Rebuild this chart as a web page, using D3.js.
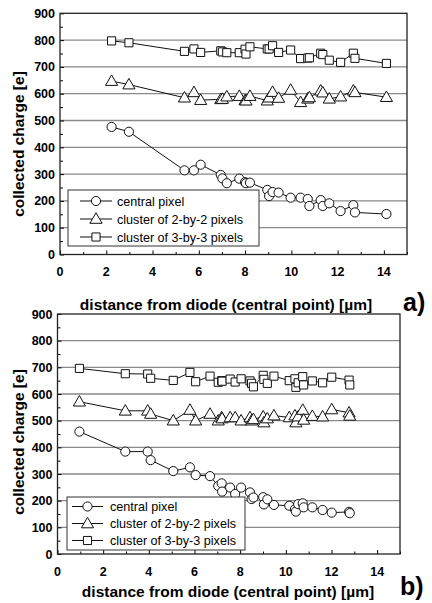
<!DOCTYPE html>
<html>
<head>
<meta charset="utf-8">
<style>
  body { margin: 0; background: #fff; }
  text { font-family: "Liberation Sans", Arial, sans-serif; }
  .tick-label { font-size: 12.5px; font-weight: bold; }
  .axis-title { font-size: 15.5px; font-weight: bold; }
  .legend text { font-size: 12.6px; }
  .grid line { stroke: #8a8a8a; stroke-width: 1.3px; }
</style>
</head>
<body>
<svg width="432" height="603"></svg>
<script src="https://d3js.org/d3.v7.min.js"></script>
<script>

// panel a) distances [um] and collected charge [e]
var xA = [2.23, 2.98, 5.38, 5.79, 6.08, 6.95, 7.02, 7.21, 7.75, 8.00, 8.04, 8.21, 8.96, 9.04,
          9.19, 9.45, 9.97, 10.40, 10.71, 10.78, 11.27, 11.36, 11.64, 12.13, 12.68, 12.75, 14.11];
var centralA = [476, 458, 314, 314, 335, 297, 284, 266, 283, 270, 266, 268, 241, 218,
                233, 231, 212, 212, 207, 181, 203, 181, 191, 162, 184, 157, 151];
var cluster2A = [647, 634, 585, 605, 576, 579, 580, 589, 591, 575, 574, 591, 574, 585,
                 606, 584, 614, 568, 581, 586, 611, 604, 581, 589, 611, 605, 587];
var cluster3A = [797, 790, 758, 767, 754, 760, 756, 753, 753, 766, 748, 775, 767, 767,
                 779, 754, 763, 731, 733, 734, 751, 746, 725, 717, 751, 732, 713];

// panel b)
var xB = [0.96, 2.97, 3.95, 4.08, 5.07, 5.80, 6.05, 6.68, 7.04, 7.19, 7.21, 7.56, 7.78, 8.04,
          8.43, 8.50, 8.58, 9.01, 9.04, 9.19, 9.48, 10.15, 10.40, 10.44, 10.54, 10.74, 10.78,
          11.16, 11.61, 12.01, 12.77, 12.80];
var centralB = [459, 384, 384, 352, 311, 325, 296, 292, 255, 265, 234, 249, 225, 249,
                231, 206, 212, 213, 186, 205, 184, 181, 168, 159, 187, 190, 175,
                175, 165, 155, 158, 153];
var cluster2B = [571, 537, 537, 525, 500, 540, 500, 525, 500, 512, 508, 512, 512, 500,
                 512, 500, 505, 515, 493, 508, 519, 512, 519, 493, 515, 540, 503,
                 517, 515, 542, 530, 518];
var cluster3B = [696, 676, 675, 659, 651, 681, 646, 667, 644, 650, 648, 656, 645, 657,
                 649, 640, 627, 670, 655, 640, 667, 650, 657, 625, 642, 665, 634,
                 649, 642, 663, 652, 634];

var legendNames = ["central pixel", "cluster of 2-by-2 pixels", "cluster of 3-by-3 pixels"];
var markerTypes = [d3.symbolCircle, d3.symbolTriangle, d3.symbolSquare];
var yTicks = [0, 100, 200, 300, 400, 500, 600, 700, 800, 900];
var xTicks = [0, 2, 4, 6, 8, 10, 12, 14];
var xTitle = "distance from diode (central point) [\u00b5m]";
var yTitle = "collected charge [e]";

var svg = d3.select("svg");
var markerSize = [66, 64, 66];

function drawPanel(cfg) {
  var g = svg.append("g");
  var x = d3.scaleLinear().domain([0, 15]).range([cfg.left, cfg.right]);
  var y = d3.scaleLinear().domain([0, 900]).range([cfg.bottom, cfg.top]);

  // gridlines
  g.append("g").attr("class", "grid")
    .selectAll("line").data(yTicks.filter(function(d) { return d > 0 && d < 900; }))
    .enter().append("line")
      .attr("x1", cfg.left).attr("x2", cfg.right)
      .attr("y1", function(d) { return y(d); })
      .attr("y2", function(d) { return y(d); });

  // axes (ticks inward)
  var xAxis = d3.axisBottom(x).tickValues(d3.range(0, 16, 1)).tickSize(-4).tickFormat("");
  g.append("g").attr("transform", "translate(0," + cfg.bottom + ")").call(xAxis)
    .call(function(a) {
      a.select(".domain").remove();
      a.selectAll(".tick line").attr("y2", function(d) { return d % 2 ? -2.5 : -4; })
        .attr("stroke", "#000");
    });
  var yAxis = d3.axisLeft(y).tickValues(d3.range(0, 901, 50)).tickSize(-4).tickFormat("");
  g.append("g").attr("transform", "translate(" + cfg.left + ",0)").call(yAxis)
    .call(function(a) {
      a.select(".domain").remove();
      a.selectAll(".tick line").attr("x2", function(d) { return d % 100 ? 3 : 4; })
        .attr("stroke", "#000");
    });

  g.selectAll(".xl").data(xTicks).enter().append("text")
    .attr("class", "tick-label")
    .attr("x", function(d) { return x(d); })
    .attr("y", cfg.bottom + 21.5)
    .attr("text-anchor", "middle")
    .text(function(d) { return d; });

  g.selectAll(".yl").data(yTicks).enter().append("text")
    .attr("class", "tick-label")
    .attr("x", cfg.left - 5)
    .attr("y", function(d) { return y(d) + 4.5; })
    .attr("text-anchor", "end")
    .text(function(d) { return d; });

  // frame
  g.append("rect")
    .attr("x", cfg.left).attr("y", cfg.top)
    .attr("width", cfg.right - cfg.left).attr("height", cfg.bottom - cfg.top)
    .attr("fill", "none").attr("stroke", "#222").attr("stroke-width", 1.3);

  // series
  var line = d3.line()
    .x(function(d) { return x(d[0]); })
    .y(function(d) { return y(d[1]); });

  cfg.series.forEach(function(vals, i) {
    var pts = cfg.xs.map(function(v, j) { return [v, vals[j]]; });
    g.append("path").datum(pts)
      .attr("d", line)
      .attr("fill", "none").attr("stroke", "#111").attr("stroke-width", 1);
    g.selectAll(".m" + i).data(pts).enter().append("path")
      .attr("d", d3.symbol().type(markerTypes[i]).size(markerSize[i]))
      .attr("transform", function(d) {
        return "translate(" + x(d[0]) + "," + (y(d[1]) + (i == 1 ? 0.8 : 0)) + ")";
      })
      .attr("fill", "#fff").attr("stroke", "#111").attr("stroke-width", 1);
  });

  // legend
  var lg = g.append("g").attr("class", "legend");
  lg.append("rect")
    .attr("x", cfg.leg.x).attr("y", cfg.leg.y)
    .attr("width", cfg.leg.w).attr("height", cfg.leg.h)
    .attr("fill", "#fff").attr("stroke", "#333").attr("stroke-width", 1);
  legendNames.forEach(function(name, i) {
    var ry = cfg.leg.y + cfg.leg.row0 + i * cfg.leg.step;
    lg.append("line")
      .attr("x1", cfg.leg.lx1).attr("x2", cfg.leg.lx2)
      .attr("y1", ry).attr("y2", ry)
      .attr("stroke", "#111");
    lg.append("path")
      .attr("d", d3.symbol().type(markerTypes[i]).size(markerSize[i]))
      .attr("transform", "translate(" + (cfg.leg.lx1 + cfg.leg.lx2) / 2 + "," + (ry + (i == 1 ? 0.8 : 0)) + ")")
      .attr("fill", "#fff").attr("stroke", "#111");
    lg.append("text")
      .attr("x", cfg.leg.tx).attr("y", ry + 4.5)
      .text(name);
  });

  // titles
  g.append("text").attr("class", "axis-title")
    .attr("x", cfg.xTitleX).attr("y", cfg.xTitleY)
    .attr("text-anchor", "middle")
    .text(xTitle);
  g.append("text").attr("class", "axis-title")
    .attr("transform", "translate(24," + cfg.yTitleY + ") rotate(-90)")
    .attr("text-anchor", "middle")
    .text(yTitle);
  g.append("text")
    .attr("x", cfg.tagX).attr("y", cfg.tagY)
    .style("font-size", "25px").style("font-weight", "bold")
    .text(cfg.tag);
}

drawPanel({
  left: 60, right: 407, top: 13.3, bottom: 254.5,
  xs: xA, series: [centralA, cluster2A, cluster3A],
  leg: { x: 68, y: 190, w: 191, h: 56, row0: 11, step: 18, lx1: 80, lx2: 112, tx: 117 },
  xTitleX: 226, xTitleY: 310, yTitleY: 144,
  tag: "a)", tagX: 403, tagY: 311
});

drawPanel({
  left: 57.5, right: 400, top: 314, bottom: 554,
  xs: xB, series: [centralB, cluster2B, cluster3B],
  leg: { x: 67, y: 497, w: 178, h: 53, row0: 9.5, step: 17, lx1: 72, lx2: 103, tx: 110 },
  xTitleX: 228, xTitleY: 597, yTitleY: 442,
  tag: "b)", tagX: 400, tagY: 595
});

</script>
</body>
</html>
